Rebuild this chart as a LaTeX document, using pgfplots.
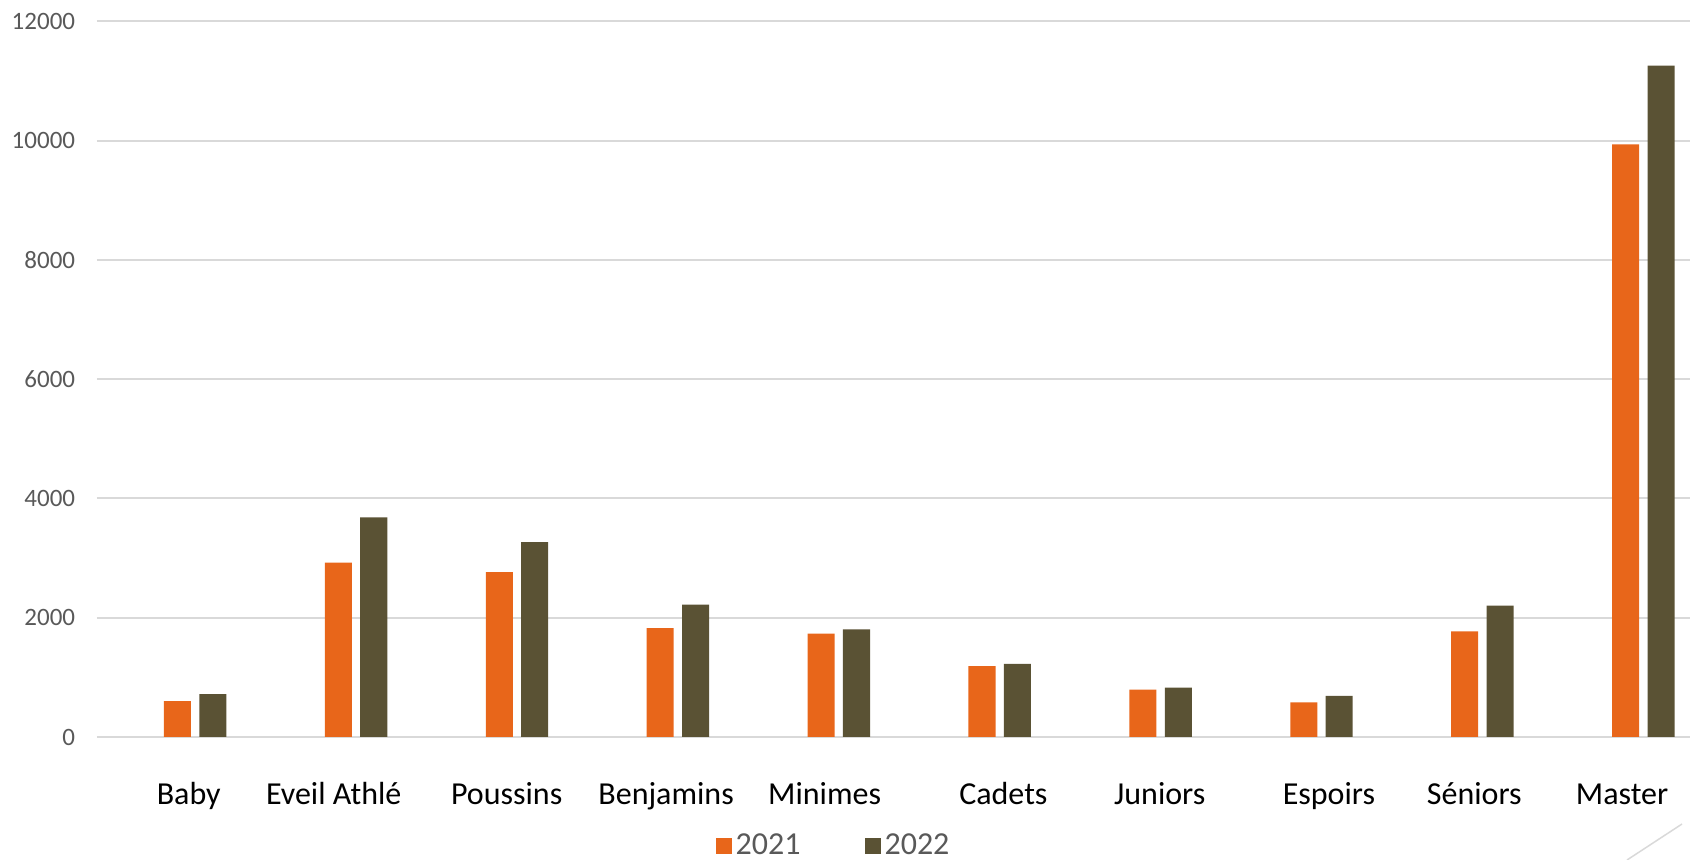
\documentclass[border=0pt]{standalone}
\usepackage{fontspec}
\setmainfont{Carlito}
\usepackage{pgfplots}
\pgfplotsset{compat=1.18}

\definecolor{orange21}{HTML}{E8661A}
\definecolor{olive22}{HTML}{5A5234}
\definecolor{gridgray}{HTML}{D9D9D9}
\definecolor{ticktext}{HTML}{595959}

% licenciés par catégorie, 2021 et 2022
\pgfplotstableread{
x  y2021  y2022
0  600    720
1  2925   3685
2  2765   3270
3  1825   2220
4  1735   1805
5  1190   1225
6  795    830
7  580    690
8  1770   2205
9  9940   11260
}\datatable

\begin{document}
\begin{tikzpicture}
\begin{axis}[
    at={(0,0)}, anchor=south west,
    scale only axis,
    width=796.5pt, height=357.75pt,
    xmin=-0.61, xmax=9.29,
    ymin=0, ymax=12000,
    ytick={0,2000,...,12000},
    scaled y ticks=false,
    % labels sit a little left of their bars, as in the reference
    xtick={-0.04,0.861,1.936,2.927,3.912,5.023,5.995,7.046,7.95,8.868},
    xticklabels={Baby, Eveil Athlé, Poussins, Benjamins, Minimes, Cadets, Juniors, Espoirs, Séniors, Master},
    /pgf/number format/1000 sep={},
    /pgf/number format/assume math mode=true,
    axis line style={draw=none},
    major tick length=0pt,
    ymajorgrids,
    grid style={gridgray, line width=1pt},
    yticklabel style={font=\fontsize{12.5}{14}\selectfont, text=ticktext, anchor=east, inner sep=0pt, xshift=-10.75pt},
    xticklabel style={font=\fontsize{16}{18}\selectfont, text=black, anchor=base, inner sep=0pt, yshift=-34pt},
    legend style={at={(axis description cs:0.463,-0.152)}, anchor=center, draw=none,
        font=\fontsize{16}{18}\selectfont, text=ticktext,
        /tikz/every even column/.append style={column sep=30pt}},
    legend columns=2,
    legend image code/.code={\fill[#1] (0pt,-4pt) rectangle (8pt,4pt);},
    clip=true,
]
\addplot [ybar, bar width=0.168, bar shift=-0.11, fill=orange21, draw=none] table [x=x, y=y2021] {\datatable};
\addplot [ybar, bar width=0.168, bar shift=0.11, fill=olive22, draw=none] table [x=x, y=y2022] {\datatable};
\legend{2021, 2022}
\end{axis}
\draw [gridgray, line width=0.75pt] (765pt,-61.5pt) -- (792.5pt,-43.5pt);
\pgfresetboundingbox
\useasboundingbox (-48.5pt,-61.5pt) rectangle (796.5pt,368.5pt);
\end{tikzpicture}
\end{document}
